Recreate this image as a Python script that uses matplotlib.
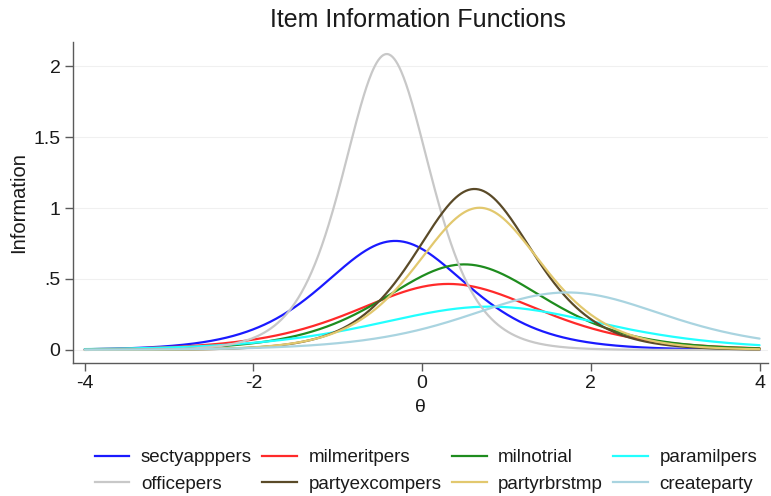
import numpy as np
import matplotlib
matplotlib.use("Agg")
import matplotlib.pyplot as plt
from matplotlib.lines import Line2D

plt.rcParams['font.family'] = ['Liberation Sans', 'DejaVu Sans']

# 2PL item parameters
items = ["sectyapppers", "milmeritpers", "milnotrial", "paramilpers",
         "officepers", "partyexcompers", "partyrbrstmp", "createparty"]
discrimination = [1.753, 1.364, 1.553, 1.105, 2.888, 2.130, 2.002, 1.273]
difficulty = [-0.32, 0.31, 0.50, 0.80, -0.42, 0.62, 0.68, 1.72]
colors = ["#1a1aff", "#ff2a2a", "#1e8c1e", "#22ffff",
          "#c8c8c8", "#5a4a28", "#e2c86e", "#a9d4e0"]

x_ticks = [-4, -2, 0, 2, 4]
y_ticks = [0, 0.5, 1, 1.5, 2]
y_tick_labels = ["0", ".5", "1", "1.5", "2"]

theta = np.linspace(-4, 4, 801)


def item_information(a, b, t):
    p = 1.0 / (1.0 + np.exp(-a * (t - b)))
    return a * a * p * (1.0 - p)


fig = plt.figure(figsize=(7.71, 4.96), dpi=100)
ax = fig.add_axes([73 / 771, 133 / 496, 695 / 771, 321 / 496])

lines = {}
for name, a, b, c in zip(items, discrimination, difficulty, colors):
    ln, = ax.plot(theta, item_information(a, b, theta), color=c, lw=1.6,
                  solid_capstyle='round')
    lines[name] = ln

ax.set_xlim(-4.14, 4.1)
ax.set_ylim(-0.092, 2.17)
ax.set_xticks(x_ticks)
ax.set_xticklabels([str(v) for v in x_ticks])
ax.set_yticks(y_ticks)
ax.set_yticklabels(y_tick_labels)
ax.yaxis.grid(True, color="#f0f0f0", lw=0.8)
ax.set_axisbelow(True)

for side in ("top", "right"):
    ax.spines[side].set_visible(False)
for side in ("left", "bottom"):
    ax.spines[side].set_color("#5a5a5a")
    ax.spines[side].set_linewidth(1.0)
ax.tick_params(axis="both", direction="out", length=6, width=1.0,
               color="#5a5a5a", labelsize=14, labelcolor="#1a1a1a", pad=3)

ax.set_xlabel("θ", fontsize=14, color="#1a1a1a", labelpad=5)
ax.set_ylabel("Information", fontsize=14.5, color="#1a1a1a", labelpad=4)
fig.text(418 / 771, 1 - 20 / 496, "Item Information Functions", ha="center",
         va="center", fontsize=18, color="#1a1a1a")

# legend laid out row by row (4 columns, 2 rows)
order = ["sectyapppers", "officepers", "milmeritpers", "partyexcompers",
         "milnotrial", "partyrbrstmp", "paramilpers", "createparty"]
handles = [Line2D([], [], color=lines[n].get_color(), lw=1.6) for n in order]
fig.legend(handles, order, loc="center", bbox_to_anchor=(426 / 771, 1 - 471 / 496),
           ncol=4, frameon=False, fontsize=13.5, handlelength=1.85,
           handletextpad=0.62, columnspacing=0.55, labelspacing=0.5,
           borderpad=0.2, labelcolor="#1a1a1a")

fig.savefig("out.png", dpi=100, facecolor="white")
